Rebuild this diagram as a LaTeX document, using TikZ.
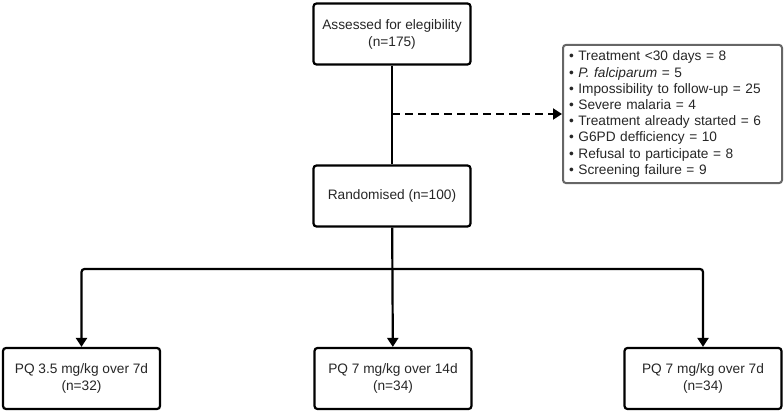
\documentclass[tikz,border=0pt]{standalone}
\usepackage{fontspec}
\setmainfont{Liberation Sans}
\usetikzlibrary{arrows.meta}

\tikzset{
    box/.style={draw, line width=2.2pt, rounded corners=3pt, minimum width=157pt,
        minimum height=61pt, align=center, text=black!85,
        font=\fontsize{13.7}{17}\selectfont},
    conn/.style={line width=2.2pt},
    arr/.style={conn, -{Triangle[length=9pt,width=11pt]}},
    exclbox/.style={draw=black!60, line width=2pt, rounded corners=3pt,
        minimum width=219pt, minimum height=136pt, text width=207pt, align=left,
        inner sep=6pt, text=black!85, font=\fontsize{13.7}{16.2}\selectfont}
}

\begin{document}
\begin{tikzpicture}[x=1pt, y=-1pt]
    \useasboundingbox (0,0) rectangle (784,411);

    % boxes
    \node[box] (assessed) at (392,34) {Assessed for elegibility\\(n=175)};
    \node[box] (rand) at (392,196) {Randomised (n=100)};
    \node[box] (armA) at (81.5,378.5) {PQ 3.5 mg/kg over 7d\\(n=32)};
    \node[box] (armB) at (393,378.5) {PQ 7 mg/kg over 14d\\(n=34)};
    \node[box] (armC) at (703,378.5) {PQ 7 mg/kg over 7d\\(n=34)};

    % exclusions
    \node[exclbox] (excl) at (672.5,114) {%
        \textbullet{} Treatment <30 days = 8\\
        \textbullet{} \textit{P. falciparum} = 5\\
        \textbullet{} Impossibility to follow-up = 25\\
        \textbullet{} Severe malaria = 4\\
        \textbullet{} Treatment already started = 6\\
        \textbullet{} G6PD defficiency = 10\\
        \textbullet{} Refusal to participate = 8\\
        \textbullet{} Screening failure = 9};

    % connectors
    \draw[conn] (assessed) -- (rand);
    \coordinate (excl-in) at (assessed.south |- excl.west);
    \draw[arr, line width=2pt, dash pattern=on 8pt off 5pt] (excl-in) -- (excl.west);

    \coordinate (split) at (392,269);
    \draw[arr] (rand) -- (armB);
    \draw[arr, rounded corners=3pt] (split) -| (armA);
    \draw[arr, rounded corners=3pt] (split) -| (armC);
\end{tikzpicture}
\end{document}
